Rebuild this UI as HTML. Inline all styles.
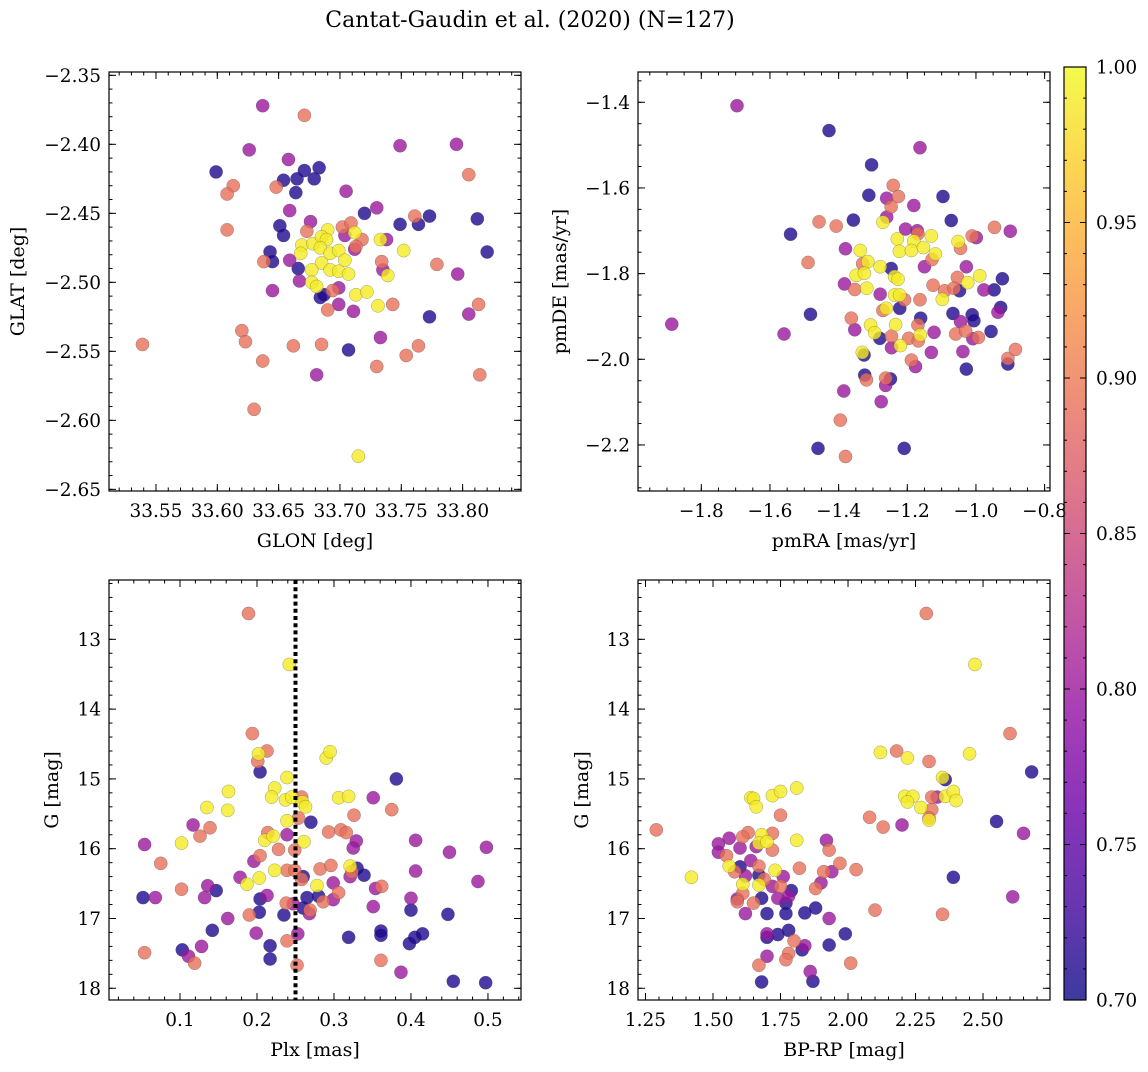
<!DOCTYPE html>
<html><head><meta charset="utf-8"><style>
html,body{margin:0;padding:0;background:#fff}
svg text{font-family:"DejaVu Serif","Liberation Serif",serif;fill:#000}
</style></head><body>
<svg id="fig" width="1148" height="1067" viewBox="0 0 1148 1067" xmlns="http://www.w3.org/2000/svg">
<defs><linearGradient id="plasma" x1="0" y1="1" x2="0" y2="0">
<stop offset="0" stop-color="#0d0887"/><stop offset="0.1" stop-color="#41049d"/><stop offset="0.2" stop-color="#6a00a8"/><stop offset="0.3" stop-color="#8f0da4"/><stop offset="0.4" stop-color="#b12a90"/><stop offset="0.5" stop-color="#cc4778"/><stop offset="0.6" stop-color="#e16462"/><stop offset="0.7" stop-color="#f2844b"/><stop offset="0.8" stop-color="#fca636"/><stop offset="0.9" stop-color="#fcce25"/><stop offset="1" stop-color="#f0f921"/></linearGradient></defs>
<text x="530" y="27" font-size="22" text-anchor="middle">Cantat-Gaudin et al. (2020) (N=127)</text>
</svg>
<script>
const glon=[33.637,33.671,33.626,33.749,33.795,33.658,33.599,33.671,33.683,33.654,33.665,33.679,33.664,33.613,33.608,33.648,33.705,33.805,33.659,33.720,33.730,33.761,33.773,33.764,33.812,33.749,33.608,33.651,33.654,33.676,33.673,33.702,33.709,33.704,33.690,33.712,33.718,33.713,33.712,33.733,33.738,33.752,33.820,33.669,33.678,33.685,33.689,33.684,33.668,33.692,33.699,33.704,33.643,33.645,33.638,33.659,33.734,33.779,33.685,33.666,33.677,33.692,33.699,33.707,33.735,33.739,33.796,33.667,33.677,33.681,33.699,33.694,33.645,33.713,33.722,33.684,33.687,33.699,33.690,33.731,33.743,33.711,33.773,33.805,33.813,33.620,33.623,33.539,33.662,33.685,33.707,33.733,33.764,33.637,33.754,33.730,33.681,33.814,33.630,33.715];
const glat=[-2.372,-2.379,-2.404,-2.401,-2.400,-2.411,-2.420,-2.419,-2.417,-2.426,-2.425,-2.425,-2.435,-2.430,-2.436,-2.431,-2.434,-2.422,-2.448,-2.450,-2.446,-2.452,-2.452,-2.458,-2.454,-2.458,-2.462,-2.459,-2.466,-2.456,-2.463,-2.460,-2.457,-2.466,-2.462,-2.464,-2.469,-2.474,-2.476,-2.469,-2.469,-2.477,-2.478,-2.473,-2.472,-2.467,-2.469,-2.475,-2.479,-2.479,-2.477,-2.484,-2.478,-2.485,-2.485,-2.484,-2.485,-2.487,-2.486,-2.490,-2.491,-2.491,-2.492,-2.494,-2.491,-2.495,-2.494,-2.499,-2.500,-2.503,-2.504,-2.506,-2.506,-2.509,-2.507,-2.511,-2.509,-2.516,-2.520,-2.517,-2.516,-2.521,-2.525,-2.523,-2.516,-2.535,-2.543,-2.545,-2.546,-2.545,-2.549,-2.540,-2.546,-2.557,-2.553,-2.561,-2.567,-2.567,-2.592,-2.626];
const prob1=[.80,.89,.80,.80,.80,.80,.71,.71,.71,.71,.71,.71,.71,.89,.89,.89,.80,.89,.80,.71,.80,.89,.71,.71,.71,.71,.89,.71,.71,.80,.89,.89,.89,.80,.99,.99,.89,.89,.80,.99,.80,.99,.71,.99,.99,.99,.99,.99,.99,.99,.99,.99,.71,.71,.89,.80,.89,.89,.99,.71,.99,.99,.99,.99,.80,.99,.80,.80,.99,.99,.80,.89,.80,.99,.99,.71,.71,.80,.89,.99,.89,.80,.71,.80,.89,.89,.89,.89,.89,.89,.71,.80,.89,.89,.89,.89,.80,.89,.89,.99];

const pmra=[-1.696,-1.428,-1.163,-1.304,-1.241,-1.312,-1.260,-1.226,-1.247,-1.181,-1.096,-1.260,-1.271,-1.357,-1.072,-1.457,-1.407,-1.540,-1.205,-1.171,-1.169,-0.946,-0.900,-1.130,-1.229,-1.181,-1.052,-1.011,-0.999,-1.045,-1.380,-1.337,-1.223,-1.188,-1.153,-1.118,-1.128,-1.489,-1.315,-1.330,-1.279,-1.247,-1.150,-1.028,-1.349,-1.325,-1.237,-1.227,-0.989,-1.054,-1.024,-1.383,-1.353,-1.318,-1.125,-1.091,-1.064,-1.048,-0.977,-0.947,-0.923,-1.279,-1.237,-1.222,-1.208,-1.163,-1.098,-1.222,-1.261,-1.271,-1.482,-1.363,-1.161,-1.067,-1.011,-1.006,-0.928,-0.936,-1.045,-1.353,-1.559,-1.886,-1.307,-1.234,-1.295,-1.280,-1.246,-1.196,-1.169,-1.162,-1.168,-1.122,-1.059,-1.030,-1.009,-0.993,-0.956,-1.246,-1.220,-1.130,-1.038,-1.331,-1.326,-1.028,-0.907,-0.907,-0.885,-1.188,-1.176,-1.324,-1.319,-1.249,-1.263,-1.263,-1.385,-1.276,-1.395,-1.460,-1.209,-1.380];
const pmde=[-1.408,-1.466,-1.506,-1.546,-1.594,-1.617,-1.624,-1.620,-1.644,-1.641,-1.620,-1.668,-1.680,-1.675,-1.676,-1.679,-1.689,-1.708,-1.696,-1.700,-1.707,-1.692,-1.701,-1.712,-1.719,-1.724,-1.725,-1.712,-1.716,-1.741,-1.742,-1.746,-1.748,-1.746,-1.739,-1.754,-1.767,-1.774,-1.772,-1.777,-1.784,-1.788,-1.784,-1.784,-1.804,-1.799,-1.807,-1.813,-1.805,-1.809,-1.821,-1.824,-1.837,-1.834,-1.827,-1.840,-1.834,-1.840,-1.838,-1.838,-1.812,-1.848,-1.850,-1.850,-1.861,-1.861,-1.860,-1.881,-1.881,-1.886,-1.895,-1.904,-1.904,-1.893,-1.896,-1.910,-1.879,-1.890,-1.912,-1.931,-1.941,-1.918,-1.920,-1.919,-1.938,-1.951,-1.946,-1.951,-1.920,-1.943,-1.957,-1.937,-1.941,-1.934,-1.952,-1.949,-1.935,-1.973,-1.968,-1.984,-1.982,-1.984,-1.990,-2.023,-2.011,-1.998,-1.977,-2.002,-2.017,-2.037,-2.048,-2.046,-2.044,-2.061,-2.074,-2.099,-2.142,-2.208,-2.208,-2.227];
const prob2=[.80,.71,.80,.71,.89,.71,.80,.89,.89,.80,.71,.80,.99,.71,.71,.89,.89,.71,.80,.80,.89,.89,.80,.99,.99,.99,.99,.89,.80,.89,.80,.99,.99,.99,.99,.99,.89,.89,.99,.89,.99,.71,.80,.80,.99,.99,.99,.99,.99,.89,.99,.80,.89,.99,.89,.89,.89,.71,.80,.71,.71,.80,.99,.99,.89,.89,.99,.71,.99,.89,.71,.89,.71,.71,.71,.71,.71,.80,.80,.80,.80,.80,.99,.99,.99,.71,.89,.89,.89,.99,.89,.80,.89,.89,.80,.89,.71,.80,.99,.80,.80,.99,.71,.71,.71,.89,.89,.89,.80,.71,.89,.71,.89,.80,.80,.80,.89,.71,.71,.89];

const plx=[.189,.242,.194,.202,.213,.201,.204,.290,.295,.381,.239,.223,.219,.237,.245,.258,.259,.263,.163,.135,.162,.306,.319,.351,.375,.326,.239,.254,.270,.117,.139,.126,.102,.054,.214,.210,.221,.239,.228,.249,.261,.293,.309,.316,.329,.325,.406,.450,.498,.075,.204,.196,.223,.239,.249,.260,.258,.282,.296,.321,.330,.323,.339,.321,.406,.487,.178,.203,.187,.278,.299,.362,.354,.102,.136,.147,.052,.068,.132,.204,.213,.265,.280,.286,.299,.306,.238,.247,.260,.269,.268,.351,.400,.400,.448,.190,.203,.235,.162,.142,.199,.253,.319,.361,.361,.398,.405,.415,.217,.239,.054,.103,.111,.128,.119,.217,.252,.361,.387,.455,.497];
const gmag3=[12.63,13.36,14.35,14.64,14.60,14.75,14.90,14.70,14.61,15.00,14.98,15.13,15.26,15.30,15.26,15.26,15.33,15.40,15.18,15.41,15.45,15.27,15.25,15.27,15.44,15.52,15.60,15.56,15.62,15.66,15.70,15.82,15.92,15.94,15.77,15.88,15.82,15.80,16.01,16.02,15.90,15.76,15.73,15.77,15.89,15.99,15.88,16.05,15.98,16.21,16.10,16.18,16.31,16.31,16.31,16.40,16.44,16.29,16.24,16.25,16.28,16.33,16.38,16.40,16.32,16.47,16.41,16.42,16.51,16.53,16.49,16.54,16.57,16.58,16.53,16.60,16.70,16.70,16.70,16.72,16.67,16.70,16.68,16.76,16.73,16.63,16.78,16.79,16.85,16.88,16.93,16.83,16.71,16.88,16.94,16.95,16.91,16.95,17.00,17.17,17.21,17.22,17.27,17.18,17.24,17.36,17.27,17.22,17.39,17.32,17.49,17.45,17.54,17.40,17.64,17.58,17.67,17.60,17.77,17.90,17.92];
const prob3=[.89,.99,.89,.99,.89,.89,.71,.99,.99,.71,.99,.99,.99,.99,.99,.89,.99,.99,.99,.99,.99,.99,.99,.80,.89,.89,.99,.89,.71,.80,.89,.89,.99,.80,.89,.99,.99,.80,.89,.89,.99,.89,.89,.89,.80,.80,.80,.80,.80,.89,.89,.80,.99,.89,.89,.71,.89,.89,.89,.99,.71,.89,.71,.80,.80,.80,.80,.99,.99,.99,.80,.89,.80,.89,.80,.71,.71,.80,.80,.71,.80,.71,.71,.89,.80,.89,.89,.80,.71,.89,.80,.80,.80,.71,.71,.89,.71,.71,.80,.71,.80,.80,.71,.71,.71,.71,.71,.71,.71,.89,.89,.71,.80,.80,.89,.71,.89,.89,.80,.71,.71];
const plxCut=0.25;

const bprp=[2.29,2.47,2.60,2.12,2.18,2.22,2.30,2.45,2.68,2.36,2.35,2.21,2.24,2.22,2.31,2.33,2.36,2.39,2.40,2.27,2.31,2.30,2.30,2.55,2.65,2.08,2.13,2.20,1.29,1.64,1.65,1.66,1.72,1.75,1.81,1.75,1.81,1.92,1.93,1.72,1.68,1.67,1.70,1.63,1.61,1.56,1.52,1.52,1.55,1.60,1.66,1.72,1.64,1.60,1.56,1.58,1.67,1.73,1.76,1.67,1.62,1.69,1.61,1.67,1.72,1.75,1.79,1.82,1.91,1.94,1.97,2.03,1.90,1.88,1.61,1.59,1.59,1.65,1.68,1.74,1.78,1.77,1.62,1.70,1.77,1.84,1.88,1.93,2.10,2.35,2.61,2.39,1.42,1.70,1.70,1.74,1.78,1.80,1.83,1.84,1.93,1.99,1.70,1.78,1.77,1.67,2.01,1.86,1.87,1.68];
const gmag4=[12.63,13.36,14.35,14.62,14.60,14.70,14.75,14.64,14.90,15.01,14.98,15.25,15.25,15.33,15.26,15.26,15.25,15.18,15.31,15.41,15.44,15.59,15.56,15.61,15.78,15.55,15.69,15.66,15.73,15.27,15.28,15.40,15.24,15.18,15.13,15.52,15.88,15.88,16.02,15.78,15.80,15.92,15.90,15.77,15.83,15.85,15.93,16.05,16.10,15.99,15.97,16.02,16.17,16.26,16.25,16.33,16.25,16.31,16.40,16.38,16.39,16.44,16.51,16.52,16.54,16.54,16.60,16.28,16.33,16.33,16.21,16.30,16.49,16.57,16.64,16.72,16.76,16.78,16.71,16.71,16.68,16.78,16.93,16.93,16.93,16.92,16.85,17.00,16.88,16.94,16.69,16.41,16.41,17.27,17.22,17.23,17.17,17.32,17.45,17.39,17.38,17.22,17.54,17.50,17.59,17.67,17.64,17.76,17.90,17.91];
const prob4=[.89,.99,.89,.99,.89,.99,.89,.99,.71,.71,.99,.99,.99,.99,.89,.80,.99,.99,.99,.99,.89,.99,.89,.71,.80,.89,.89,.80,.89,.99,.99,.99,.99,.99,.99,.89,.99,.80,.89,.89,.99,.99,.99,.89,.89,.80,.80,.80,.89,.80,.80,.89,.80,.71,.99,.89,.89,.99,.80,.71,.80,.89,.99,.99,.80,.89,.71,.89,.89,.80,.89,.89,.80,.89,.89,.80,.89,.89,.71,.80,.80,.71,.80,.71,.71,.71,.71,.80,.89,.89,.80,.71,.99,.71,.80,.71,.71,.89,.71,.80,.71,.71,.80,.89,.89,.89,.89,.80,.71,.71];

const cbTicks=[0.70,0.75,0.80,0.85,0.90,0.95,1.00];

const NS='http://www.w3.org/2000/svg';
const svg=document.getElementById('fig');
const TF=18.5, LF=19;
function mk(tag,attrs,parent){const e=document.createElementNS(NS,tag);for(const k in attrs)e.setAttribute(k,attrs[k]);(parent||svg).appendChild(e);return e;}
const PL=[[13,8,135],[65,4,157],[106,0,168],[143,13,164],[177,42,144],[204,71,120],[225,100,98],[242,132,75],[252,166,54],[252,206,37],[240,249,33]];
function plasma(p){let t=(p-0.7)/0.3;t=Math.max(0,Math.min(1,t));const f=t*10,i=Math.min(9,Math.floor(f)),r=f-i;const a=PL[i],b=PL[i+1];return 'rgb('+a.map((v,k)=>Math.round(v+(b[k]-v)*r)).join(',')+')';}
function fmt(v,d){const s=Math.abs(v).toFixed(d);return (v<-1e-9?'\u2212':'')+s;}

function panel(c){
  const g=mk('g',{});
  
  
  const sx=v=>c.L+(v-c.x0)/(c.x1-c.x0)*(c.R-c.L);
  const sy=v=>c.B-(v-c.y0)/(c.y1-c.y0)*(c.B-c.T);
  c.sx=sx;c.sy=sy;
  const ticks=mk('g',{stroke:'#000','stroke-width':1},g);
  
  
  const lo=Math.min(c.x0,c.x1),hi=Math.max(c.x0,c.x1);
  for(let k=Math.ceil(lo/c.xm-1e-6);k*c.xm<=hi+1e-9;k++){const x=sx(k*c.xm);mk('line',{x1:x,x2:x,y1:c.B,y2:c.B-3.5},ticks);mk('line',{x1:x,x2:x,y1:c.T,y2:c.T+3.5},ticks);}
  const ylo=Math.min(c.y0,c.y1),yhi=Math.max(c.y0,c.y1);
  for(let k=Math.ceil(ylo/c.ym-1e-6);k*c.ym<=yhi+1e-9;k++){const y=sy(k*c.ym);mk('line',{x1:c.L,x2:c.L+3.5,y1:y,y2:y},ticks);mk('line',{x1:c.R,x2:c.R-3.5,y1:y,y2:y},ticks);}
  c.xt.forEach(v=>{const x=sx(v);mk('line',{x1:x,x2:x,y1:c.B,y2:c.B-7},ticks);mk('line',{x1:x,x2:x,y1:c.T,y2:c.T+7},ticks);
    const t=mk('text',{x:x,y:c.B+26,'font-size':TF,'text-anchor':'middle'},g);t.textContent=fmt(v,c.xd);
    });
  c.yt.forEach(v=>{const y=sy(v);mk('line',{x1:c.L,x2:c.L+7,y1:y,y2:y},ticks);mk('line',{x1:c.R,x2:c.R-7,y1:y,y2:y},ticks);
    const t=mk('text',{x:c.L-8,y:y+6.5,'font-size':TF,'text-anchor':'end'},g);t.textContent=fmt(v,c.yd);
    });
  const xl=mk('text',{x:(c.L+c.R)/2,y:c.B+56,'font-size':LF,'text-anchor':'middle'},g);xl.textContent=c.xlabel;
  
  const yl=mk('text',{x:c.ylx,y:(c.T+c.B)/2,'font-size':LF,'text-anchor':'middle',transform:'rotate(-90 '+c.ylx+' '+(c.T+c.B)/2+')'},g);yl.textContent=c.ylabel;
  
  const clip=mk('clipPath',{id:'clip-'+c.name},g);mk('rect',{x:c.L,y:c.T,width:c.R-c.L,height:c.B-c.T},clip);
  const pts=mk('g',{'clip-path':'url(#clip-'+c.name+')'},g);
  
  const idx=c.xs.map((_,i)=>i).sort((a,b)=>c.ps[a]-c.ps[b]);
  idx.forEach(i=>{const p=mk('circle',{cx:sx(c.xs[i]),cy:sy(c.ys[i]),r:6.6,fill:plasma(c.ps[i]),'fill-opacity':0.8,stroke:'#444','stroke-opacity':0.6,'stroke-width':0.4},pts);
    });
  c.pts=pts;c.g=g;
  const fr=mk('rect',{x:c.L,y:c.T,width:c.R-c.L,height:c.B-c.T,fill:'none',stroke:'#000','stroke-width':1.2},g);
  
  return c;
}

panel({name:'glon-glat-panel',L:109,R:521,T:72,B:491,x0:33.5117,x1:33.8476,y0:-2.6512,y1:-2.3476,
  xt:[33.55,33.60,33.65,33.70,33.75,33.80],xd:2,xm:0.01,yt:[-2.35,-2.40,-2.45,-2.50,-2.55,-2.60,-2.65],yd:2,ym:0.01,
  xlabel:'GLON [deg]',ylabel:'GLAT [deg]',ylx:24,xs:glon,ys:glat,ps:prob1});
panel({name:'proper-motion-panel',L:638,R:1050,T:72,B:491,x0:-1.9844,x1:-0.7843,y0:-2.3075,y1:-1.3293,
  xt:[-1.8,-1.6,-1.4,-1.2,-1.0,-0.8],xd:1,xm:0.05,yt:[-1.4,-1.6,-1.8,-2.0,-2.2],yd:1,ym:0.05,
  xlabel:'pmRA [mas/yr]',ylabel:'pmDE [mas/yr]',ylx:566,xs:pmra,ys:pmde,ps:prob2});
const p3=panel({name:'parallax-panel',L:109,R:521,T:580,B:1000,x0:0.0078,x1:0.5429,y0:18.168,y1:12.150,
  xt:[0.1,0.2,0.3,0.4,0.5],xd:1,xm:0.02,yt:[13,14,15,16,17,18],yd:0,ym:0.2,
  xlabel:'Plx [mas]',ylabel:'G [mag]',ylx:58,xs:plx,ys:gmag3,ps:prob3});
const cut=mk('line',{x1:p3.sx(plxCut),x2:p3.sx(plxCut),y1:p3.T,y2:p3.B,stroke:'#000','stroke-width':4,'stroke-dasharray':'4,3.2'},p3.g);


panel({name:'cmd-panel',L:638,R:1050,T:580,B:1000,x0:1.2222,x1:2.748,y0:18.168,y1:12.150,
  xt:[1.25,1.50,1.75,2.00,2.25,2.50],xd:2,xm:0.05,yt:[13,14,15,16,17,18],yd:0,ym:0.2,
  xlabel:'BP-RP [mag]',ylabel:'G [mag]',ylx:588,xs:bprp,ys:gmag4,ps:prob4});

// colorbar
const cb=mk('g',{});


const cT=67,cB=1000,cL=1064,cR=1086;
const cy=v=>cB-(v-0.7)/0.3*(cB-cT);
mk('rect',{x:cL,y:cT,width:cR-cL,height:cB-cT,fill:'url(#plasma)','fill-opacity':0.8},cb);
mk('rect',{x:cL,y:cT,width:cR-cL,height:cB-cT,fill:'none',stroke:'#000','stroke-width':1.2},cb);
for(let k=70;k<=100;k++){const y=cy(k/100);mk('line',{x1:cR,x2:cR-3,y1:y,y2:y,stroke:'#000','stroke-width':1},cb);mk('line',{x1:cL,x2:cL+3,y1:y,y2:y,stroke:'#000','stroke-width':1},cb);}
cbTicks.forEach(v=>{const y=cy(v);mk('line',{x1:cR,x2:cR-6,y1:y,y2:y,stroke:'#000','stroke-width':1},cb);mk('line',{x1:cL,x2:cL+6,y1:y,y2:y,stroke:'#000','stroke-width':1},cb);
  const t=mk('text',{x:cR+10,y:y+6.5,'font-size':TF},cb);t.textContent=v.toFixed(2);
  });
</script>
</body></html>
